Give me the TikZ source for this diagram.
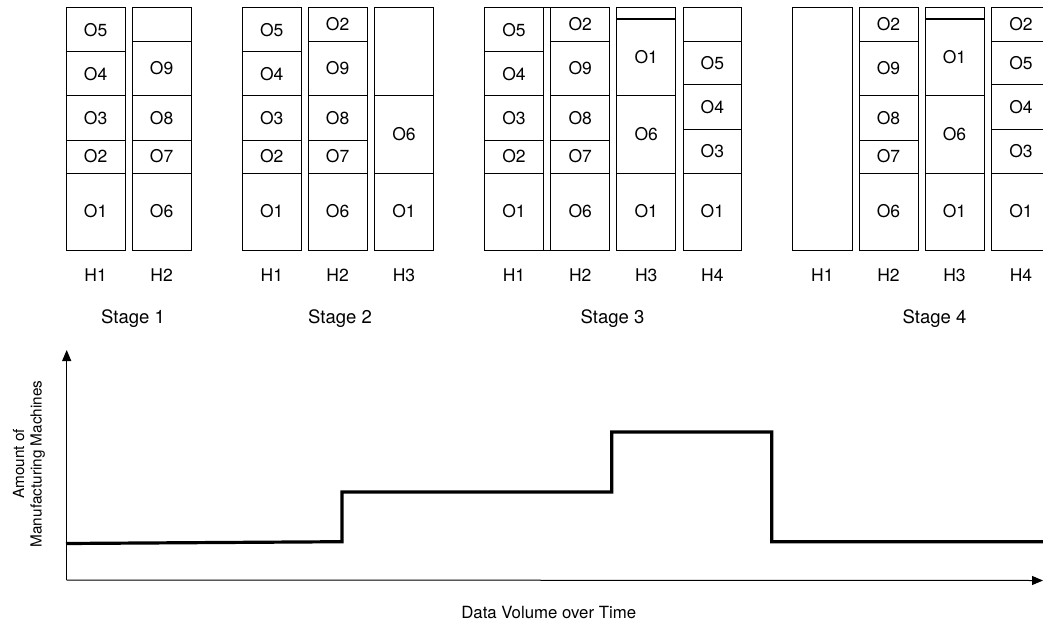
\documentclass[tikz,border=0pt]{standalone}
\usepackage{fontspec}
\setmainfont{TeX Gyre Heros}
\usetikzlibrary{arrows.meta}
\tikzset{
  cellsty/.style={draw=black, line width=1pt, inner sep=0pt, outer sep=0pt,
    font=\fontsize{17.5}{20}\selectfont, text height=12.6pt, text depth=0pt},
  hlab/.style={inner sep=0pt, font=\fontsize{17.5}{20}\selectfont, text height=12.6pt, text depth=0pt},
  stagelab/.style={inner sep=0pt, font=\fontsize{18.5}{22}\selectfont, text height=13.3pt, text depth=0pt},
  axisline/.style={line width=1pt, -{Triangle[length=11pt,width=9pt]}},
  stepline/.style={line width=3.2pt, miter limit=10, line join=miter},
}
\newcommand\cellbox[6]{%
  \node[cellsty, minimum width={(#3-#2)*1pt}, minimum height={(#5-#4)*1pt}] (#1) at ({(#2+#3)/2},{(#4+#5)/2}) {#6};}
\begin{document}
\begin{tikzpicture}[x=1pt,y=-1pt]
\useasboundingbox (0,0) rectangle (1043,623);
% ---------- Stage 1 ----------
\cellbox{s1h1o5}{66}{125.3}{8}{51.7}{O5}
\cellbox{s1h1o4}{66}{125.3}{51.7}{96}{O4}
\cellbox{s1h1o3}{66}{125.3}{96}{140}{O3}
\cellbox{s1h1o2}{66}{125.3}{140}{173}{O2}
\cellbox{s1h1o1}{66}{125.3}{173}{250}{O1}
\cellbox{s1h2e}{132.3}{191}{8}{41.3}{}
\cellbox{s1h2o9}{132.3}{191}{41.3}{96}{O9}
\cellbox{s1h2o8}{132.3}{191}{96}{140}{O8}
\cellbox{s1h2o7}{132.3}{191}{140}{173}{O7}
\cellbox{s1h2o6}{132.3}{191}{173}{250}{O6}
\node[hlab] (s1l1) at (95.65,275.3) {H1};
\node[hlab] (s1l2) at (161.65,275.3) {H2};
\node[stagelab] (st1) at (133,316.7) {Stage 1};
% ---------- Stage 2 ----------
\cellbox{s2h1o5}{242.3}{301.3}{8}{51.7}{O5}
\cellbox{s2h1o4}{242.3}{301.3}{51.7}{96}{O4}
\cellbox{s2h1o3}{242.3}{301.3}{96}{140}{O3}
\cellbox{s2h1o2}{242.3}{301.3}{140}{173}{O2}
\cellbox{s2h1o1}{242.3}{301.3}{173}{250}{O1}
\cellbox{s2h2o2}{308.3}{367}{8}{41.3}{O2}
\cellbox{s2h2o9}{308.3}{367}{41.3}{96}{O9}
\cellbox{s2h2o8}{308.3}{367}{96}{140}{O8}
\cellbox{s2h2o7}{308.3}{367}{140}{173}{O7}
\cellbox{s2h2o6}{308.3}{367}{173}{250}{O6}
\cellbox{s2h3e}{374.3}{433.7}{8}{96}{}
\cellbox{s2h3o6}{374.3}{433.7}{96}{173}{O6}
\cellbox{s2h3o1}{374.3}{433.7}{173}{250}{O1}
\node[hlab] (s2l1) at (271.8,275.3) {H1};
\node[hlab] (s2l2) at (337.65,275.3) {H2};
\node[hlab] (s2l3) at (404,275.3) {H3};
\node[stagelab] (st2) at (340,316.7) {Stage 2};
% ---------- Stage 3 ----------
\cellbox{s3h1o5}{484.7}{543.3}{8}{51.7}{O5}
\cellbox{s3h1o4}{484.7}{543.3}{51.7}{96}{O4}
\cellbox{s3h1o3}{484.7}{543.3}{96}{140}{O3}
\cellbox{s3h1o2}{484.7}{543.3}{140}{173}{O2}
\cellbox{s3h1o1}{484.7}{543.3}{173}{250}{O1}
\cellbox{s3h2o2}{550.7}{609.7}{8}{41.3}{O2}
\cellbox{s3h2o9}{550.7}{609.7}{41.3}{96}{O9}
\cellbox{s3h2o8}{550.7}{609.7}{96}{140}{O8}
\cellbox{s3h2o7}{550.7}{609.7}{140}{173}{O7}
\cellbox{s3h2o6}{550.7}{609.7}{173}{250}{O6}
\draw[line width=1pt] (s3h1o5.north east) -- (s3h2o2.north west);
\draw[line width=1pt] (s3h1o1.south east) -- (s3h2o6.south west);
\cellbox{s3h3e}{616.7}{675.7}{8}{19}{}
\cellbox{s3h3o1a}{616.7}{675.7}{19}{96}{O1}
\cellbox{s3h3o6}{616.7}{675.7}{96}{173}{O6}
\cellbox{s3h3o1}{616.7}{675.7}{173}{250}{O1}
\cellbox{s3h4e}{683}{741.7}{8}{41.3}{}
\cellbox{s3h4o5}{683}{741.7}{41.3}{84.7}{O5}
\cellbox{s3h4o4}{683}{741.7}{84.7}{129}{O4}
\cellbox{s3h4o3}{683}{741.7}{129}{173}{O3}
\cellbox{s3h4o1}{683}{741.7}{173}{250}{O1}
\node[hlab] (s3l1) at (514,275.3) {H1};
\node[hlab] (s3l2) at (580.2,275.3) {H2};
\node[hlab] (s3l3) at (646.2,275.3) {H3};
\node[hlab] (s3l4) at (712.35,275.3) {H4};
\node[stagelab] (st3) at (612.5,316.7) {Stage 3};
% ---------- Stage 4 ----------
\cellbox{s4h1e}{792.7}{852}{8}{250}{}
\cellbox{s4h2o2}{859}{918}{8}{41.3}{O2}
\cellbox{s4h2o9}{859}{918}{41.3}{96}{O9}
\cellbox{s4h2o8}{859}{918}{96}{140}{O8}
\cellbox{s4h2o7}{859}{918}{140}{173}{O7}
\cellbox{s4h2o6}{859}{918}{173}{250}{O6}
\cellbox{s4h3e}{925}{984}{8}{19}{}
\cellbox{s4h3o1a}{925}{984}{19}{96}{O1}
\cellbox{s4h3o6}{925}{984}{96}{173}{O6}
\cellbox{s4h3o1}{925}{984}{173}{250}{O1}
\cellbox{s4h4o2}{991.5}{1050.5}{8}{41.3}{O2}
\cellbox{s4h4o5}{991.5}{1050.5}{41.3}{84.7}{O5}
\cellbox{s4h4o4}{991.5}{1050.5}{84.7}{129}{O4}
\cellbox{s4h4o3}{991.5}{1050.5}{129}{173}{O3}
\cellbox{s4h4o1}{991.5}{1050.5}{173}{250}{O1}
\node[hlab] (s4l1) at (822.35,275.3) {H1};
\node[hlab] (s4l2) at (888.5,275.3) {H2};
\node[hlab] (s4l3) at (954.5,275.3) {H3};
\node[hlab] (s4l4) at (1021,275.3) {H4};
\node[stagelab] (st4) at (934.5,316.7) {Stage 4};
% ---------- Graph ----------
\coordinate (orig) at (66.7,580);
\coordinate (ytip) at (66.7,350);
\coordinate (xtip) at (1043,580.5);
\draw[axisline] (orig) -- (ytip);
\draw[axisline] (orig) -- (xtip);
\coordinate (p0) at (66,543.5);
\coordinate (p1) at (342,541.7);
\coordinate (p2) at (342,492);
\coordinate (p3) at (611.7,492);
\coordinate (p4) at (611.7,432);
\coordinate (p5) at (771.7,432);
\coordinate (p6) at (771.7,541.7);
\coordinate (p7) at (1043,541.7);
\draw[stepline] (p0) -- (p1) -- (p2) -- (p3) -- (p4) -- (p5) -- (p6) -- (p7);
\node[rotate=90, align=center, inner sep=0pt, font=\fontsize{15.3}{17.6}\selectfont] (ylab) at (29,464) {Amount of\\Manufacturing Machines};
\node[inner sep=0pt, font=\fontsize{16.8}{20}\selectfont, text height=12pt, text depth=0pt] (xlab) at (548.7,612) {Data Volume over Time};
\end{tikzpicture}
\end{document}
